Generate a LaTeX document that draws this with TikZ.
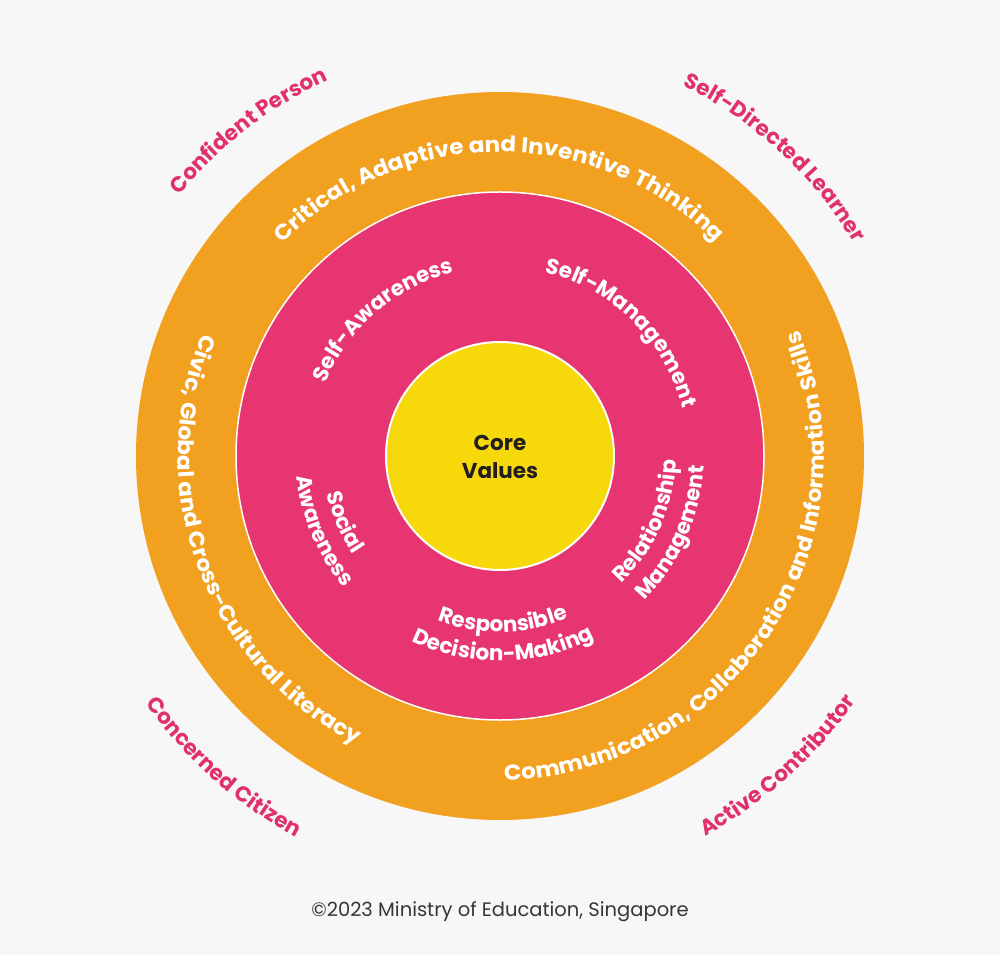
\documentclass[tikz,border=0pt]{standalone}
\usepackage{fontspec}
\setmainfont{Poppins}
\newfontfamily\widefamily{Poppins}[FakeStretch=1.07]
\usetikzlibrary{decorations.text}
\definecolor{ringorange}{HTML}{F2A01F}
\definecolor{ringpink}{HTML}{E63571}
\definecolor{coreyellow}{HTML}{F7D90B}
\definecolor{labelpink}{HTML}{E0306E}
\definecolor{bggray}{HTML}{F7F7F7}
\definecolor{inkdark}{HTML}{231F20}
\newcommand\ringfont{\bfseries\fontsize{21.5}{24}\selectfont}
\newcommand\widefont{\widefamily\bfseries\fontsize{21.5}{24}\selectfont}
\begin{document}
\begin{tikzpicture}[x=1pt, y=1pt,
	arctext/.style n args={2}{decorate, decoration={text along path, text align=center, text color=#1, text={|\ringfont|#2}}},
	arcwide/.style={decorate, decoration={text along path, text align=center, text color=white, text={|\widefont|#1}}}]
	% page and rings
	\fill[bggray] (-500,-499) rectangle (500,456);
	\fill[ringorange] (0,0) circle (364);
	\draw[white, line width=1.5, fill=ringpink] (0,0) circle (264);
	\draw[white, line width=2, fill=coreyellow] (0,0) circle (114);
	% orange ring
	\path[arcwide={Critical, Adaptive and Inventive Thinking}] (180.2:304) arc[start angle=180.2, end angle=0.2, radius=304pt];
	\path[arcwide={Civic, Global and Cross-Cultural Literacy}] (110.5:322) arc[start angle=110.5, end angle=290.5, radius=322pt];
	\path[arcwide={Communication, Collaboration and Information Skills}] (-123.2:324) arc[start angle=-123.2, end angle=56.8, radius=324pt];
	% pink ring
	\path[arctext={white}{Self-Awareness}] (200.7:189) arc[start angle=200.7, end angle=60.7, radius=189pt];
	\path[arctext={white}{Self-Management}] (115.4:189) arc[start angle=115.4, end angle=-24.6, radius=189pt];
	\path[arctext={white}{Social}] (143:177) arc[start angle=143, end angle=263, radius=177pt];
	\path[arctext={white}{Awareness}] (143:204) arc[start angle=143, end angle=263, radius=204pt];
	\path[arctext={white}{Relationship}] (-84:176) arc[start angle=-84, end angle=36, radius=176pt];
	\path[arctext={white}{Management}] (-84:204) arc[start angle=-84, end angle=36, radius=204pt];
	\path[arctext={white}{Responsible}] (-149:176) arc[start angle=-149, end angle=-29, radius=176pt];
	\path[arctext={white}{Decision-Making}] (-149:205) arc[start angle=-149, end angle=-29, radius=205pt];
	% outer labels
	\path[arctext={labelpink}{Confident Person}] (172.7:413) arc[start angle=172.7, end angle=82.7, radius=413pt];
	\path[arctext={labelpink}{Self-Directed Learner}] (92.4:413) arc[start angle=92.4, end angle=2.4, radius=413pt];
	\path[arctext={labelpink}{Concerned Citizen}] (183.4:432) arc[start angle=183.4, end angle=273.4, radius=432pt];
	\path[arctext={labelpink}{Active Contributor}] (-93.1:432) arc[start angle=-93.1, end angle=-3.1, radius=432pt];
	% centre and footer
	\node[inkdark, font=\bfseries\fontsize{21.5}{28}\selectfont, align=center] (core) at (0,-1) {Core\\Values};
	\node[inkdark!90, font=\fontsize{19.5}{22}\selectfont] (credit) at (0,-456) {©2023 Ministry of Education, Singapore};
\end{tikzpicture}
\end{document}
